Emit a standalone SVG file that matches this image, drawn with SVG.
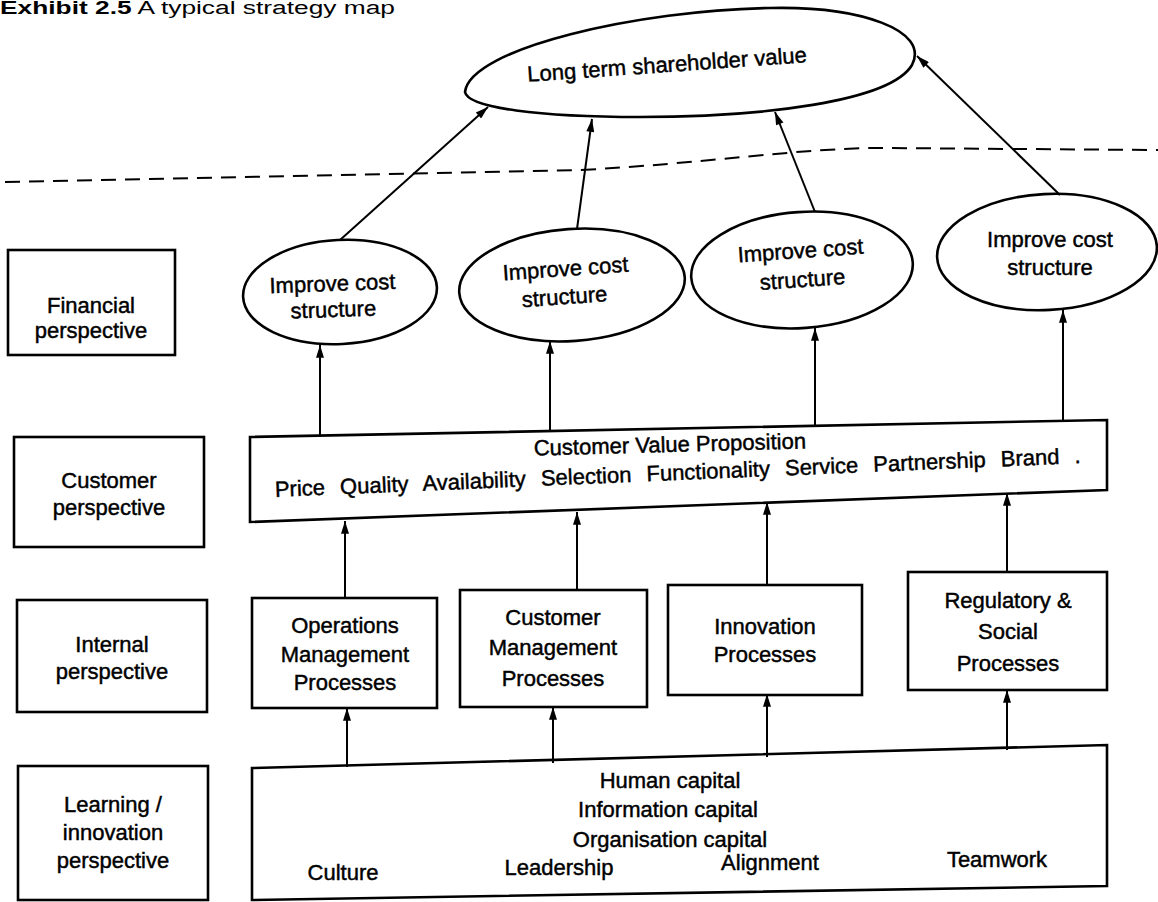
<svg xmlns="http://www.w3.org/2000/svg" width="1158" height="902" viewBox="0 0 1158 902">
<defs>
<marker id="ah" viewBox="0 0 16 10" markerWidth="15" markerHeight="8" refX="16" refY="5" orient="auto" markerUnits="userSpaceOnUse">
<path d="M0,0 L16,5 L0,10 z" fill="#000"/>
</marker>
<style>
.t{font-family:"Liberation Sans",Arial,sans-serif;font-size:22px;fill:#000;stroke:#000;stroke-width:0.45;text-anchor:middle}
.b{fill:#fff;stroke:#000;stroke-width:2.6}
.c{stroke:#000;stroke-width:2;fill:none}
.a{stroke:#000;stroke-width:2;fill:none;marker-end:url(#ah)}
</style>
</defs>
<rect width="1158" height="902" fill="#fff"/>
<text x="0" y="14" font-family="Liberation Sans,Arial,sans-serif" font-size="18" fill="#000" textLength="395" lengthAdjust="spacingAndGlyphs"><tspan font-weight="bold">Exhibit 2.5</tspan>    A typical strategy map</text>

<g id="shareholder">
<path class="b" d="M465,92 C468,108 540,117 640,117 C760,117 890,102 912,65 C930,30 860,6 770,8 C640,10 470,48 465,92 Z"/>
<text class="t" x="667" y="72" font-size="20" transform="rotate(-4 667 65)">Long term shareholder value</text>
</g>

<g id="fin-label">
<rect class="b" x="8" y="250" width="167" height="105"/>
<text class="t" x="91" y="313">Financial</text>
<text class="t" x="91" y="338">perspective</text>
</g>
<g id="cust-label">
<rect class="b" x="14" y="437" width="190" height="110"/>
<text class="t" x="109" y="488">Customer</text>
<text class="t" x="109" y="515">perspective</text>
</g>
<g id="int-label">
<rect class="b" x="17" y="600" width="190" height="112"/>
<text class="t" x="112" y="652">Internal</text>
<text class="t" x="112" y="679">perspective</text>
</g>
<g id="learn-label">
<rect class="b" x="18" y="766" width="190" height="134"/>
<text class="t" x="113" y="812">Learning /</text>
<text class="t" x="113" y="840">innovation</text>
<text class="t" x="113" y="868">perspective</text>
</g>

<g id="fin1">
<ellipse class="b" cx="340" cy="292" rx="97" ry="52" transform="rotate(-3 340 292)"/>
<text class="t" x="333" y="291" transform="rotate(-2 333 300)">Improve cost</text>
<text class="t" x="333" y="317" transform="rotate(-2 333 300)">structure</text>
</g>
<g id="fin2">
<ellipse class="b" cx="572" cy="285" rx="113" ry="56" transform="rotate(-4 572 285)"/>
<text class="t" x="567" y="276" transform="rotate(-4 567 290)">Improve cost</text>
<text class="t" x="564" y="304" transform="rotate(-4 567 290)">structure</text>
</g>
<g id="fin3">
<ellipse class="b" cx="802" cy="270" rx="111" ry="58" transform="rotate(-4 802 270)"/>
<text class="t" x="802" y="258" transform="rotate(-4 802 272)">Improve cost</text>
<text class="t" x="802" y="287" transform="rotate(-4 802 272)">structure</text>
</g>
<g id="fin4">
<ellipse class="b" cx="1047" cy="252" rx="110" ry="58" transform="rotate(-3 1047 252)"/>
<text class="t" x="1050" y="247">Improve cost</text>
<text class="t" x="1050" y="275">structure</text>
</g>

<g id="cvp">
<polygon class="b" points="250,437 1107,420 1107,490 250,522"/>
<text class="t" x="670" y="452" transform="rotate(-1.5 670 450)">Customer Value Proposition</text>
<text class="t" x="678" y="480" word-spacing="9" transform="rotate(-2.4 678 478)">Price Quality Availability Selection Functionality Service Partnership Brand .</text>
</g>

<g id="ops">
<rect class="b" x="252" y="598" width="185" height="110"/>
<text class="t" x="345" y="633">Operations</text>
<text class="t" x="345" y="662">Management</text>
<text class="t" x="345" y="690">Processes</text>
</g>
<g id="cm">
<rect class="b" x="460" y="590" width="187" height="117"/>
<text class="t" x="553" y="625">Customer</text>
<text class="t" x="553" y="655">Management</text>
<text class="t" x="553" y="686">Processes</text>
</g>
<g id="innov">
<rect class="b" x="668" y="585" width="194" height="110"/>
<text class="t" x="765" y="634">Innovation</text>
<text class="t" x="765" y="662">Processes</text>
</g>
<g id="reg">
<rect class="b" x="908" y="572" width="199" height="118"/>
<text class="t" x="1008" y="608">Regulatory &amp;</text>
<text class="t" x="1008" y="639">Social</text>
<text class="t" x="1008" y="671">Processes</text>
</g>

<g id="learning">
<polygon class="b" points="252,768 1107,745 1107,886 252,900"/>
<text class="t" x="670" y="788">Human capital</text>
<text class="t" x="668" y="817">Information capital</text>
<text class="t" x="670" y="847">Organisation capital</text>
<text class="t" x="343" y="880">Culture</text>
<text class="t" x="559" y="875">Leadership</text>
<text class="t" x="770" y="870">Alignment</text>
<text class="t" x="997" y="867">Teamwork</text>
</g>

<g id="connectors">
<path class="c" d="M5,182 L580,170 C700,164 800,148 880,148 L1158,150" stroke-width="3" stroke-dasharray="15,9"/>
<line class="a" x1="340" y1="240" x2="488" y2="107"/>
<line class="a" x1="577" y1="229" x2="592" y2="119"/>
<line class="a" x1="815" y1="212" x2="775" y2="112"/>
<line class="a" x1="1060" y1="195" x2="917" y2="56"/>
<line class="a" x1="320" y1="436" x2="320" y2="345"/>
<line class="a" x1="550" y1="431" x2="550" y2="341"/>
<line class="a" x1="815" y1="426" x2="815" y2="328"/>
<line class="a" x1="1063" y1="421" x2="1063" y2="310"/>
<line class="a" x1="345" y1="598" x2="345" y2="521"/>
<line class="a" x1="577" y1="590" x2="577" y2="512"/>
<line class="a" x1="767" y1="585" x2="767" y2="502"/>
<line class="a" x1="1007" y1="572" x2="1007" y2="493"/>
<line class="a" x1="347" y1="767" x2="347" y2="708"/>
<line class="a" x1="553" y1="763" x2="553" y2="707"/>
<line class="a" x1="767" y1="757" x2="767" y2="694"/>
<line class="a" x1="1007" y1="750" x2="1007" y2="690"/>
</g>
</svg>
